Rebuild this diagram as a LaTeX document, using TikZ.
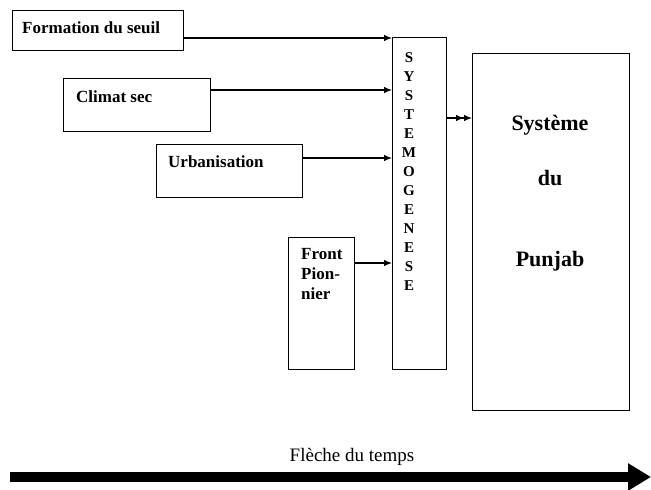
\documentclass[tikz,border=0pt]{standalone}
\usepackage{fontspec}
\setmainfont{Liberation Serif}
\usetikzlibrary{positioning, arrows.meta}

\begin{document}
\begin{tikzpicture}[x=1pt, y=-1pt,
            box/.style={draw, line width=1.1pt, anchor=north west, inner sep=0pt},
            lbl/.style={inner sep=0pt, anchor=base west,
                    font=\bfseries\fontsize{17}{20}\selectfont},
            big/.style={inner sep=0pt, anchor=base,
                    font=\bfseries\fontsize{22}{26}\selectfont},
            arr/.style={-{Latex[length=8pt, width=6.5pt]}, line width=1.1pt},
        ]

        \useasboundingbox (0,0) rectangle (651,490);

        % boxes
        \node[box, minimum width=171pt, minimum height=40pt] (form) at (12,10) {};
        \node[box, minimum width=147pt, minimum height=53pt] (clim) at (63,78) {};
        \node[box, minimum width=146pt, minimum height=53pt] (urb) at (156,144) {};
        \node[box, minimum width=66pt, minimum height=132pt] (front) at (288,237) {};
        \node[box, minimum width=54pt, minimum height=332pt] (sys) at (392,37) {};
        \node[box, minimum width=157pt, minimum height=357pt] (punj) at (472,53) {};

        % texts
        \node[lbl] (formtxt) at (22,33) {Formation du seuil};
        \node[lbl] (climtxt) at (76,102) {Climat sec};
        \node[lbl] (urbtxt) at (168,167) {Urbanisation};
        \node[lbl, anchor=north west, align=left] (fronttxt) at (301,248) {Front\\Pion-\\nier};
        \node[inner sep=0pt, anchor=north, align=center,
            font=\bfseries\fontsize{15}{19}\selectfont] (systxt) at (409,52)
            {S\\Y\\S\\T\\E\\M\\O\\G\\E\\N\\E\\S\\E};
        \node[big] (p1) at (550,130) {Système};
        \node[big] (p2) at (550,185) {du};
        \node[big] (p3) at (550,266) {Punjab};

        % arrows
        \draw[arr] (form.east |- 0,38) -- (sys.west |- 0,38);
        \draw[arr] (clim.east |- 0,90) -- (sys.west |- 0,90);
        \draw[arr] (urb.east |- 0,158) -- (sys.west |- 0,158);
        \draw[arr] (front.east |- 0,263) -- (sys.west |- 0,263);
        \draw[arr, -{Latex[length=8pt, width=6.5pt]Latex[length=8pt, width=6.5pt]}]
            (sys.east |- 0,118) -- (punj.west |- 0,118);

        % time arrow
        \coordinate (t0) at (10,477);
        \coordinate (t1) at (651,477);
        \node[inner sep=0pt, anchor=base, font=\fontsize{19}{22}\selectfont] (temps) at (352,461) {Flèche du temps};
        \draw[line width=10pt, -{Triangle[length=23pt, width=26pt]}] (t0) -- (t1);

    \end{tikzpicture}
\end{document}
